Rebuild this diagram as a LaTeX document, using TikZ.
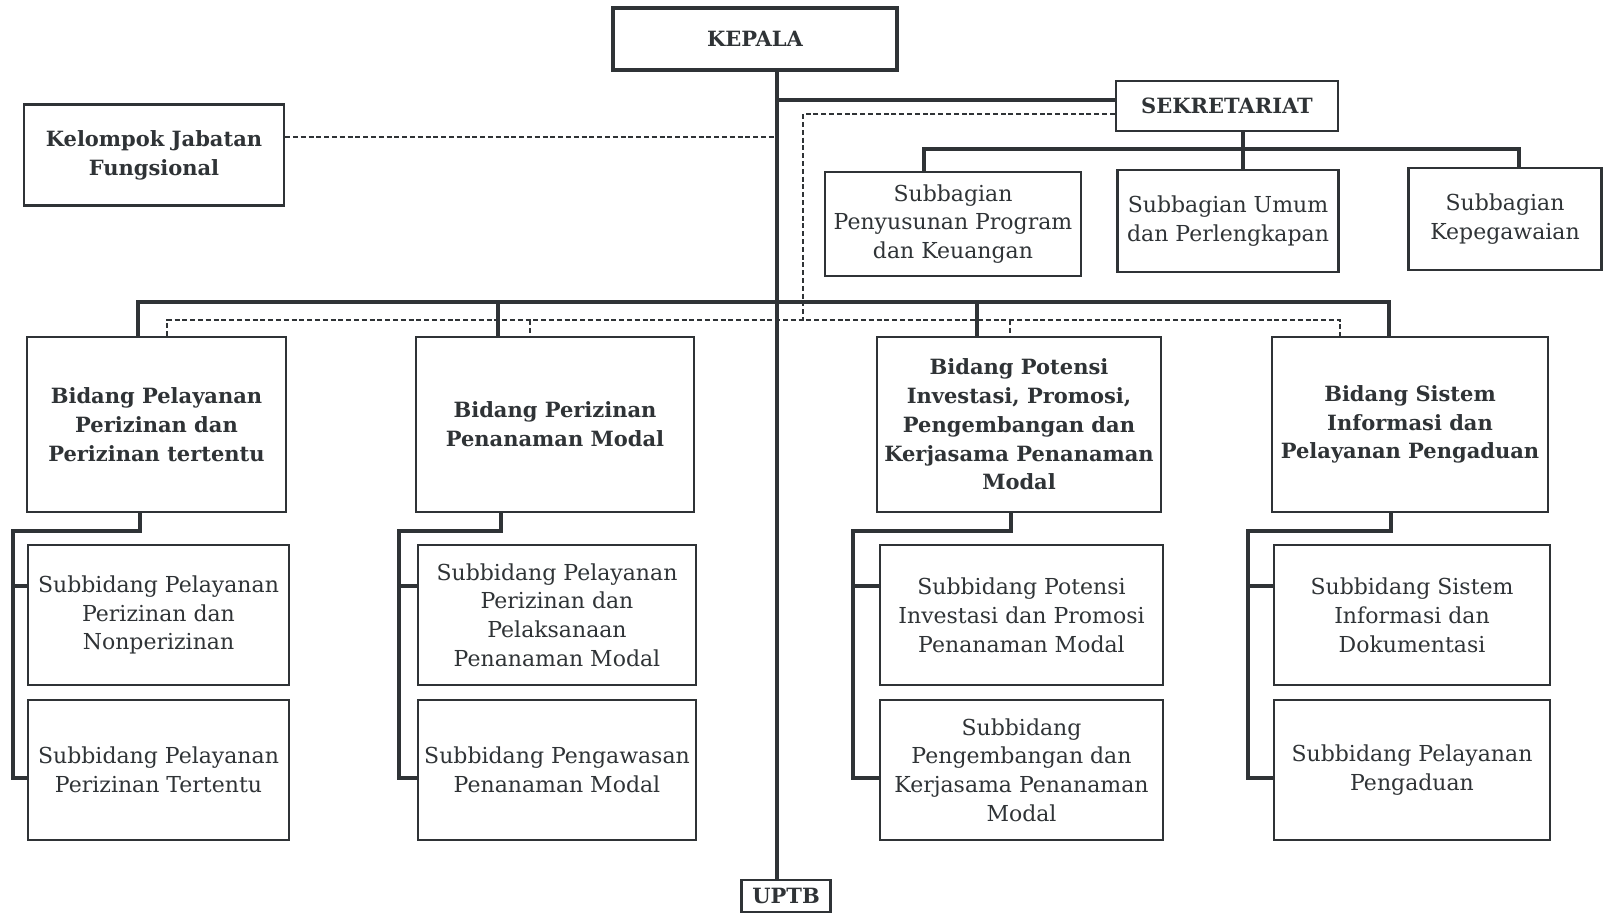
\documentclass[tikz,border=0pt]{standalone}
\usepackage{fontspec}
\setmainfont{DejaVu Serif}
\usetikzlibrary{positioning}

\definecolor{ink}{HTML}{2F3336}

\tikzset{
    box/.style={draw=ink, line width=1.1pt, text=ink, align=center, inner sep=0pt,
        font=\fontsize{11}{14.4}\selectfont},
    headbox/.style={box, font=\bfseries\fontsize{10.5}{14.4}\selectfont},
    link/.style={draw=ink, line width=2.1pt},
    dashlink/.style={draw=ink, line width=1.1pt, dash pattern=on 2.5pt off 1.4pt}
}

\begin{document}
\begin{tikzpicture}[x=0.5pt, y=-0.5pt]
    \useasboundingbox (0, 0) rectangle (1604, 914);

    % pimpinan dan sekretariat
    \node[headbox, line width=1.8pt, minimum width=142pt, minimum height=31pt] (kepala) at (755, 39) {KEPALA};
    \node[headbox, line width=1.3pt, minimum width=111pt, minimum height=25pt] (sek) at (1227, 106) {SEKRETARIAT};
    \node[headbox, minimum width=130pt, minimum height=50.5pt] (kjf) at (154, 155) {Kelompok Jabatan\\Fungsional};
    \node[box, minimum width=128pt, minimum height=52pt] (sb1) at (953, 224) {Subbagian\\Penyusunan Program\\dan Keuangan};
    \node[box, minimum width=110.5pt, minimum height=51pt] (sb2) at (1228, 221) {Subbagian Umum\\dan Perlengkapan};
    \node[box, minimum width=96.5pt, minimum height=51pt] (sb3) at (1505, 219) {Subbagian\\Kepegawaian};

    % bidang
    \node[headbox, minimum width=129.5pt, minimum height=87.5pt] (b1) at (156.5, 424.5) {Bidang Pelayanan\\Perizinan dan\\Perizinan tertentu};
    \node[headbox, minimum width=139pt, minimum height=87.5pt] (b2) at (555, 424.5) {Bidang Perizinan\\Penanaman Modal};
    \node[headbox, minimum width=142pt, minimum height=87.5pt] (b3) at (1019, 424.5) {Bidang Potensi\\Investasi, Promosi,\\Pengembangan dan\\Kerjasama Penanaman\\Modal};
    \node[headbox, minimum width=138pt, minimum height=87.5pt] (b4) at (1410, 424.5) {Bidang Sistem\\Informasi dan\\Pelayanan Pengaduan};

    % subbidang
    \node[box, minimum width=130.5pt, minimum height=70pt] (s11) at (158.5, 615) {Subbidang Pelayanan\\Perizinan dan\\Nonperizinan};
    \node[box, minimum width=130.5pt, minimum height=70pt] (s12) at (158.5, 770) {Subbidang Pelayanan\\Perizinan Tertentu};
    \node[box, minimum width=139pt, minimum height=70pt] (s21) at (557, 615) {Subbidang Pelayanan\\Perizinan dan\\Pelaksanaan\\Penanaman Modal};
    \node[box, minimum width=139pt, minimum height=70pt] (s22) at (557, 770) {Subbidang Pengawasan\\Penanaman Modal};
    \node[box, minimum width=141.5pt, minimum height=70pt] (s31) at (1021.5, 615) {Subbidang Potensi\\Investasi dan Promosi\\Penanaman Modal};
    \node[box, minimum width=141.5pt, minimum height=70pt] (s32) at (1021.5, 770) {Subbidang\\Pengembangan dan\\Kerjasama Penanaman\\Modal};
    \node[box, minimum width=138pt, minimum height=70pt] (s41) at (1412, 615) {Subbidang Sistem\\Informasi dan\\Dokumentasi};
    \node[box, minimum width=138pt, minimum height=70pt] (s42) at (1412, 770) {Subbidang Pelayanan\\Pengaduan};

    \node[headbox, line width=1.3pt, minimum width=44.5pt, minimum height=16pt] (uptb) at (786, 896) {UPTB};

    % titik bantu
    \coordinate (spine) at (777, 70);
    \coordinate (sekjoin) at (777, 100);
    \coordinate (kjfjoin) at (777, 137);
    \coordinate (sekdash) at (803, 114);
    \coordinate (sbl) at (924, 149);
    \coordinate (sbm) at (1243, 149);
    \coordinate (sbr) at (1519, 149);
    \coordinate (t1) at (0, 586);
    \coordinate (t2) at (0, 778);

    % garis komando
    \draw[link] (spine) -- (spine |- uptb.north);
    \draw[link] (sekjoin) -- (sekjoin -| sek.west);
    \draw[link] (sek.south -| sbm) -- (sbm);
    \draw[link] (sbl |- sb1.north) -- (sbl) -- (sbr) -- (sbr |- sb3.north);
    \draw[link] (sbm) -- (sbm |- sb2.north);

    \foreach \g/\sx/\dx in {1/138/167, 2/498/530, 3/977/1010, 4/1389/1340} {
        \coordinate (db\g) at (\sx, 302);
        \coordinate (qb\g) at (\dx, 320);
    }
    \draw[link] (db1 |- b1.north) -- (db1) -- (db4) -- (db4 |- b4.north);
    \draw[link] (db2) -- (db2 |- b2.north);
    \draw[link] (db3) -- (db3 |- b3.north);

    % garis koordinasi
    \draw[dashlink] (kjfjoin -| kjf.east) -- (kjfjoin);
    \draw[dashlink] (sekdash -| sek.west) -- (sekdash) -- (sekdash |- qb1);
    \draw[dashlink] (qb1 |- b1.north) -- (qb1) -- (qb4) -- (qb4 |- b4.north);
    \draw[dashlink] (qb2) -- (qb2 |- b2.north);
    \draw[dashlink] (qb3) -- (qb3 |- b3.north);

    % bidang ke subbidang
    \foreach \g/\gx/\bx in {1/140/13, 2/501/399, 3/1011/853, 4/1391/1248} {
        \coordinate (e\g) at (\gx, 531);
        \coordinate (r\g) at (\bx, 531);
        \draw[link] (b\g.south -| e\g) -- (e\g) -- (r\g) -- (r\g |- t2) -- (t2 -| s\g2.west);
        \draw[link] (r\g |- t1) -- (t1 -| s\g1.west);
    }
\end{tikzpicture}
\end{document}
